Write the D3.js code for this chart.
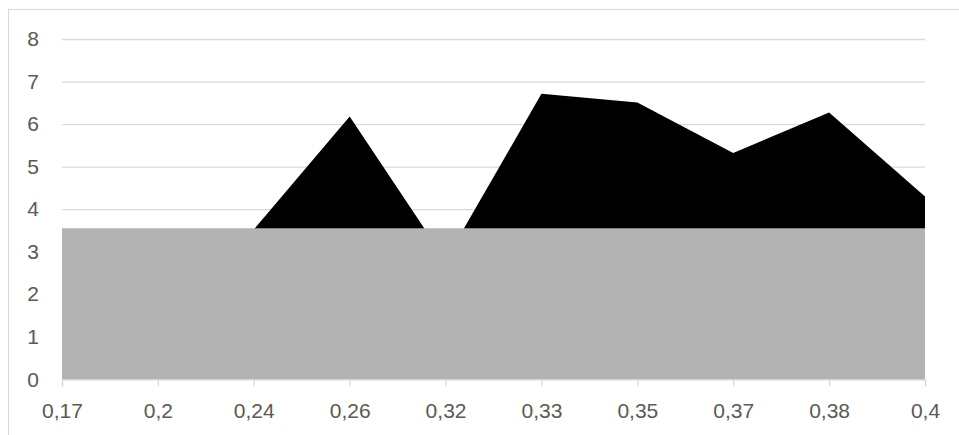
<!DOCTYPE html>
<html>
<head>
<meta charset="utf-8">
<script src="https://cdn.jsdelivr.net/npm/d3@7"></script>
<style>
  html, body { margin: 0; padding: 0; background: #fff; }
  svg { display: block; }
  text { font-family: "Liberation Sans", Arial, sans-serif; fill: #595959; }
</style>
</head>
<body>
<svg id="chart" width="959" height="435"></svg>
<script>
const categories = ["0,17", "0,2", "0,24", "0,26", "0,32", "0,33", "0,35", "0,37", "0,38", "0,4"];
const blackSeries = [3.0, 3.2, 3.52, 6.18, 2.8, 6.71, 6.51, 5.32, 6.27, 4.3];
const graySeries = [3.55, 3.55, 3.55, 3.55, 3.55, 3.55, 3.55, 3.55, 3.55, 3.55];
const yTicks = [0, 1, 2, 3, 4, 5, 6, 7, 8];

(function () {
const svg = d3.select("#chart");
const W = 959, H = 435;
const pLeft = 62, pRight = 925, pTop = 39, pBottom = 379.3;

// outer border
svg.append("rect")
  .attr("x", 8.5).attr("y", 9.5)
  .attr("width", W + 10).attr("height", H + 10)
  .attr("fill", "none").attr("stroke", "#d9d9d9").attr("stroke-width", 1);

const x = d3.scalePoint().domain(categories).range([pLeft, pRight]);
const y = d3.scaleLinear().domain([0, 8]).range([pBottom, pTop]);

// gridlines
const yAxis = d3.axisLeft(y).tickValues(yTicks).tickSize(-(pRight - pLeft)).tickPadding(23).tickFormat(d3.format("d"));
const gy = svg.append("g").attr("transform", `translate(${pLeft},0)`).call(yAxis);
gy.select(".domain").remove();
gy.selectAll(".tick line").attr("stroke", "#d9d9d9").attr("stroke-width", 1.3)
  .filter(d => d === 0).remove();
gy.selectAll(".tick text").attr("font-size", 21).attr("fill", "#595959")
  .style("font-family", "'Liberation Sans', Arial, sans-serif");

const area = d3.area()
  .x((d, i) => x(categories[i]))
  .y0(y(0))
  .y1(d => y(d));

svg.append("path").datum(blackSeries).attr("d", area).attr("fill", "#000");
svg.append("path").datum(graySeries).attr("d", area).attr("fill", "#b3b3b3");

// x axis
const xAxis = d3.axisBottom(x).tickSize(7).tickPadding(17);
const gx = svg.append("g").attr("transform", `translate(0,${pBottom})`).call(xAxis);
gx.select(".domain").attr("stroke", "#d9d9d9").attr("stroke-width", 1.3);
gx.selectAll(".tick line").attr("stroke", "#d9d9d9").attr("stroke-width", 1.3);
gx.selectAll(".tick text").attr("font-size", 21).attr("fill", "#595959")
  .style("font-family", "'Liberation Sans', Arial, sans-serif");
})();
</script>
</body>
</html>
